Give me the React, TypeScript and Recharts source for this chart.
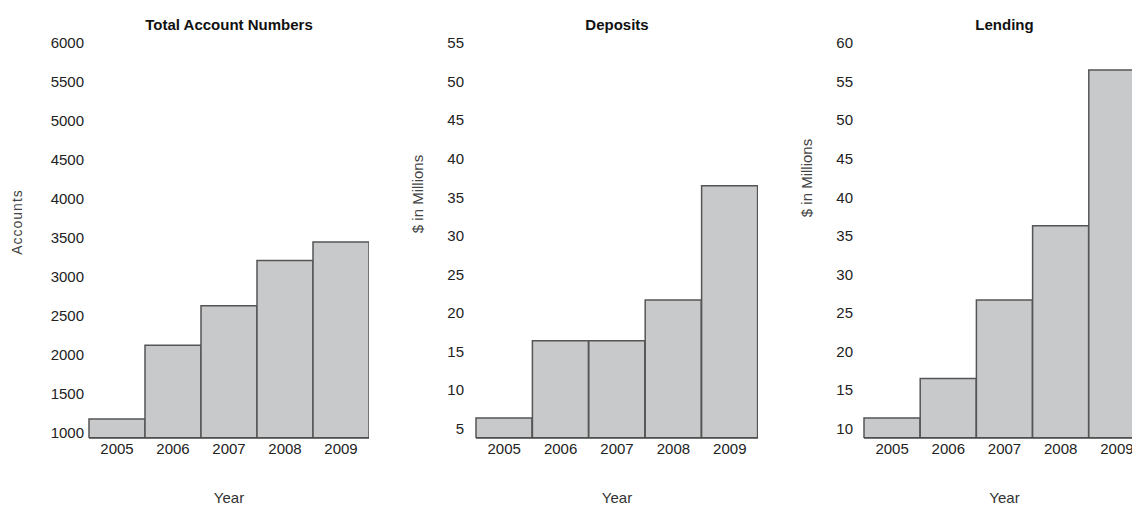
import React from 'react'
import { BarChart, Bar, XAxis, YAxis } from 'recharts'

const years = ['2005', '2006', '2007', '2008', '2009']

const accounts = [1180, 2125, 2630, 3210, 3450]
const deposits = [6.4, 16.4, 16.4, 21.7, 36.5]
const lending = [11.4, 16.5, 26.7, 36.3, 56.5]

const accountTicks = [1000, 1500, 2000, 2500, 3000, 3500, 4000, 4500, 5000, 5500, 6000]
const depositTicks = [5, 10, 15, 20, 25, 30, 35, 40, 45, 50, 55]
const lendingTicks = [10, 15, 20, 25, 30, 35, 40, 45, 50, 55, 60]

const FONT = "'Liberation Sans', Arial, Helvetica, sans-serif"
const HEIGHT = 507
const TOP = 43
const AXIS_H = 69

type PanelProps = {
    left: number
    width: number
    yAxisWidth: number
    tickGap: number
    title: string
    yLabel: string
    yLabelX: number
    yLabelY: number
    yLabelSize: number
    yLabelSpacing: number
    domain: [number, number]
    ticks: number[]
    values: number[]
}

function Panel(p: PanelProps) {
    const data = years.map((year, i) => ({ year, value: p.values[i] }))
    const plotW = p.width - p.yAxisWidth
    const midX = p.yAxisWidth + plotW / 2
    return (
        <div style={{ position: 'absolute', left: p.left, top: 0, width: p.width, height: HEIGHT }}>
            <div
                style={{
                    position: 'absolute',
                    left: p.yAxisWidth,
                    width: plotW,
                    top: 16,
                    lineHeight: '18px',
                    textAlign: 'center',
                    fontFamily: FONT,
                    fontSize: 15,
                    fontWeight: 'bold',
                    color: '#111',
                }}
            >
                {p.title}
            </div>
            <BarChart
                width={p.width}
                height={HEIGHT}
                data={data}
                margin={{ top: TOP, right: 0, bottom: 0, left: 0 }}
                barCategoryGap={0}
                style={{ position: 'absolute', left: 0, top: 0 }}
            >
                <XAxis
                    dataKey="year"
                    height={AXIS_H}
                    tickLine={false}
                    tickSize={3}
                    tickMargin={2}
                    axisLine={{ stroke: '#444', strokeWidth: 1.5 }}
                    tick={{ fill: '#222', fontSize: 15, fontFamily: FONT }}
                    label={{
                        content: () => (
                            <text x={midX} y={503} textAnchor="middle" fill="#333" fontSize={15} fontFamily={FONT}>
                                Year
                            </text>
                        ),
                    }}
                />
                <YAxis
                    width={p.yAxisWidth}
                    type="number"
                    domain={p.domain}
                    ticks={p.ticks}
                    interval={0}
                    allowDataOverflow
                    axisLine={false}
                    tickLine={false}
                    tickSize={3}
                    tickMargin={p.tickGap - 3}
                    tick={{ fill: '#222', fontSize: 15, fontFamily: FONT }}
                    label={{
                        content: () => (
                            <text
                                x={p.yLabelX}
                                y={p.yLabelY}
                                transform={`rotate(-90 ${p.yLabelX} ${p.yLabelY})`}
                                textAnchor="middle"
                                dominantBaseline="central"
                                fill="#444"
                                fontSize={p.yLabelSize}
                                letterSpacing={p.yLabelSpacing}
                                fontFamily={FONT}
                            >
                                {p.yLabel}
                            </text>
                        ),
                    }}
                />
                <Bar dataKey="value" fill="#c8c9cb" stroke="#555" strokeWidth={1.5} isAnimationActive={false} />
            </BarChart>
        </div>
    )
}

export default function App() {
    return (
        <div
            style={{
                position: 'absolute',
                left: 0,
                top: 0,
                width: 1132,
                height: HEIGHT,
                overflow: 'hidden',
                background: '#fff',
            }}
        >
            <Panel
                left={0}
                width={369}
                yAxisWidth={89}
                tickGap={5}
                title="Total Account Numbers"
                yLabel="Accounts"
                yLabelX={17}
                yLabelY={222}
                yLabelSize={14}
                yLabelSpacing={1}
                domain={[936, 6000]}
                ticks={accountTicks}
                values={accounts}
            />
            <Panel
                left={400}
                width={358}
                yAxisWidth={76}
                tickGap={12}
                title="Deposits"
                yLabel="$ in Millions"
                yLabelX={17}
                yLabelY={194}
                yLabelSize={15}
                yLabelSpacing={0}
                domain={[3.8, 55]}
                ticks={depositTicks}
                values={deposits}
            />
            <Panel
                left={790}
                width={355}
                yAxisWidth={74}
                tickGap={11}
                title="Lending"
                yLabel="$ in Millions"
                yLabelX={16}
                yLabelY={178}
                yLabelSize={15}
                yLabelSpacing={0}
                domain={[8.8, 60]}
                ticks={lendingTicks}
                values={lending}
            />
        </div>
    )
}
